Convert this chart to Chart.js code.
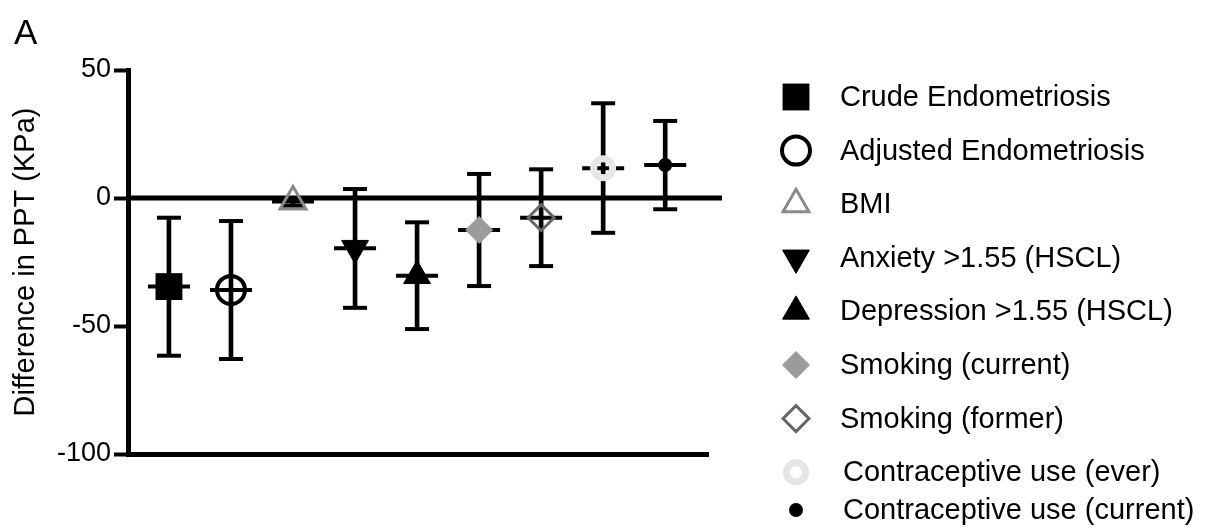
<!DOCTYPE html>
<html>
<head>
<meta charset="utf-8">
<script src="https://cdn.jsdelivr.net/npm/chart.js@4.4.1/dist/chart.umd.min.js"></script>
<style>
  body { margin: 0; background: #fff; }
  #wrap { width: 1218px; height: 530px; position: relative; }
</style>
</head>
<body>
<div id="wrap"><canvas id="chart"></canvas></div>
<script>
// data
const categories = [
  "Crude Endometriosis",
  "Adjusted Endometriosis",
  "BMI",
  "Anxiety >1.55 (HSCL)",
  "Depression >1.55 (HSCL)",
  "Smoking (current)",
  "Smoking (former)",
  "Contraceptive use (ever)",
  "Contraceptive use (current)"
];
const meanValues  = [-34.6, -35.9, -1.4, -19.6, -30.4, -12.5, -7.7, 11.6, 12.9];
const lowerValues = [-61.6, -62.9, -3.0, -42.9, -51.2, -34.4, -26.6, -13.6, -4.4];
const upperValues = [-7.7, -9.0, 0.0, 3.5, -9.5, 9.4, 11.2, 37.0, 30.1];
const yTicks = [-100, -50, 0, 50];

const FONT = "'Liberation Sans', Arial, Helvetica, sans-serif";

// marker look for each series
const markers = [
  { pointStyle: "rect", rotation: 0, radius: 19, bg: "#000", border: "#000", bw: 0 },
  { pointStyle: "circle", rotation: 0, radius: 14, bg: "rgba(0,0,0,0)", border: "#000", bw: 4 },
  { pointStyle: "triangle", rotation: 0, radius: 15, bg: "rgba(0,0,0,0)", border: "#8a8a8a", bw: 3 },
  { pointStyle: "triangle", rotation: 180, radius: 15.5, bg: "#000", border: "#000", bw: 1 },
  { pointStyle: "triangle", rotation: 0, radius: 15.5, bg: "#000", border: "#000", bw: 1 },
  { pointStyle: "rectRot", rotation: 0, radius: 13.5, bg: "#9b9b9b", border: "#9b9b9b", bw: 1 },
  { pointStyle: "rectRot", rotation: 0, radius: 13, bg: "rgba(0,0,0,0)", border: "#666", bw: 3 },
  { pointStyle: "circle", rotation: 0, radius: 9.5, bg: "rgba(0,0,0,0)", border: "#e6e6e6", bw: 7 },
  { pointStyle: "circle", rotation: 0, radius: 7, bg: "#000", border: "#000", bw: 0 }
];

const markerSets = categories.map((name, i) => ({
  type: "scatter",
  label: name,
  data: [{ x: i, y: meanValues[i] }],
  pointStyle: markers[i].pointStyle,
  rotation: markers[i].rotation,
  pointRadius: markers[i].radius,
  backgroundColor: markers[i].bg,
  borderColor: markers[i].border,
  borderWidth: markers[i].bw,
  order: 1
}));

const meanLines = {
  type: "scatter",
  label: "mean",
  data: categories.map((c, i) => ({ x: i, y: meanValues[i] })),
  pointStyle: "line",
  pointRadius: 21,
  borderColor: "#000",
  borderWidth: 4,
  order: 4
};

const caps = {
  type: "scatter",
  label: "caps",
  data: categories.map((c, i) => ({ x: i, y: lowerValues[i] }))
    .concat(categories.map((c, i) => ({ x: i, y: upperValues[i] }))),
  pointStyle: "line",
  pointRadius: 12,
  borderColor: "#000",
  borderWidth: 4,
  order: 5
};

const whiskers = {
  type: "bar",
  label: "ci",
  data: categories.map((c, i) => ({ x: i, y: [lowerValues[i], upperValues[i]] })),
  backgroundColor: "#000",
  borderWidth: 0,
  barThickness: 4,
  order: 10
};

// zero line (runs a little past the x axis), panel letter and legend
const extras = {
  id: "extras",
  beforeDatasetsDraw(chart) {
    const { ctx, chartArea, scales } = chart;
    const y0 = scales.y.getPixelForValue(0);
    ctx.save();
    ctx.strokeStyle = "#000";
    ctx.lineWidth = 5;
    ctx.beginPath();
    ctx.moveTo(chartArea.left, y0);
    ctx.lineTo(chartArea.right + 14, y0);
    ctx.stroke();
    ctx.restore();
  },
  afterDraw(chart) {
    const ctx = chart.ctx;
    ctx.save();
    ctx.fillStyle = "#000";
    ctx.font = "35px " + FONT;
    ctx.textBaseline = "alphabetic";
    ctx.fillText("A", 14, 44);

    ctx.font = "29px " + FONT;
    ctx.textBaseline = "middle";
    categories.forEach((name, i) => {
      const y = i < 8 ? 97 + i * 53.6 : 510;
      const m = markers[i];
      ctx.fillStyle = m.bg;
      ctx.strokeStyle = m.border;
      ctx.lineWidth = m.bw;
      Chart.helpers.drawPoint(ctx, {
        pointStyle: m.pointStyle, rotation: m.rotation,
        radius: m.radius, borderWidth: m.bw
      }, 796, y);
      ctx.fillStyle = "#000";
      ctx.fillText(name, i < 7 ? 840 : 843, y + 1);
    });
    ctx.restore();
  }
};

new Chart(document.getElementById("chart"), {
  type: "scatter",
  data: { datasets: [...markerSets, meanLines, caps, whiskers] },
  options: {
    responsive: true,
    maintainAspectRatio: false,
    animation: false,
    events: [],
    layout: { padding: { top: 70, bottom: 76, left: 0, right: 510 } },
    plugins: { legend: { display: false }, tooltip: { enabled: false } },
    scales: {
      x: {
        type: "linear",
        offset: false,
        min: -0.66,
        max: 8.69,
        ticks: { display: false },
        grid: { display: false, drawTicks: false, offset: false },
        border: { display: true, color: "#000", width: 5 },
        afterFit(s) { s.height = 0; }
      },
      y: {
        min: -100,
        max: 50,
        afterBuildTicks(s) { s.ticks = yTicks.map(v => ({ value: v })); },
        ticks: { color: "#000", font: { family: FONT, size: 27 }, padding: 3 },
        grid: {
          drawOnChartArea: false, drawTicks: true, tickLength: 14,
          tickColor: "#000", tickWidth: 4
        },
        border: { display: true, color: "#000", width: 5 },
        title: {
          display: true, text: "Difference in PPT (KPa)", color: "#000",
          font: { family: FONT, size: 29 }, padding: { top: 9, bottom: 0 }
        },
        afterFit(s) { s.width = 128; }
      }
    }
  },
  plugins: [extras]
});
</script>
</body>
</html>
